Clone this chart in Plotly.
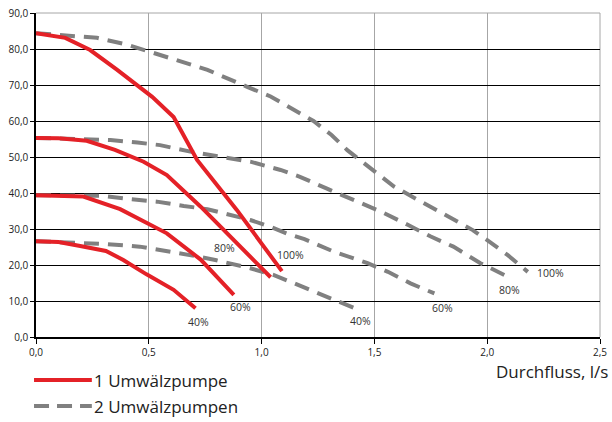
import plotly.graph_objects as go

# Pump curves: head vs. flow for one and two circulation pumps at 40/60/80/100 % speed
red_100_x = [0, 0.13, 0.24, 0.36, 0.515, 0.61, 0.714, 0.89, 1.09]
red_100_y = [84.4, 83.1, 79.7, 74.2, 66.7, 61.1, 49.2, 35.3, 18.3]

red_80_x = [0, 0.1, 0.225, 0.35, 0.477, 0.58, 0.73, 0.884, 1.04]
red_80_y = [55.3, 55.2, 54.5, 52.0, 48.7, 45.0, 36.2, 26.6, 16.6]

red_60_x = [0, 0.1, 0.21, 0.373, 0.49, 0.58, 0.73, 0.877]
red_60_y = [39.4, 39.3, 39.0, 35.5, 31.6, 28.8, 21.5, 11.7]

red_40_x = [0, 0.1, 0.196, 0.31, 0.387, 0.49, 0.61, 0.707]
red_40_y = [26.6, 26.4, 25.3, 23.9, 21.4, 17.4, 13.1, 8.0]

gray_100_x = [0, 0.136, 0.27, 0.40, 0.52, 0.625, 0.76, 0.936, 1.04, 1.23, 1.31,
              1.38, 1.476, 1.587, 1.707, 1.825, 1.936, 2.0, 2.09, 2.18]
gray_100_y = [84.4, 83.8, 83.1, 81.3, 79.0, 76.9, 74.2, 69.5, 66.8, 60.0, 56.1,
              51.9, 47.3, 41.8, 37.6, 33.4, 29.7, 26.9, 22.8, 18.1]

gray_80_x = [0, 0.196, 0.33, 0.45, 0.55, 0.684, 0.818, 0.95, 1.084, 1.17, 1.29,
             1.425, 1.53, 1.65, 1.75, 1.85, 1.97, 2.09]
gray_80_y = [55.3, 55.0, 54.7, 54.0, 53.3, 51.5, 50.1, 48.7, 46.4, 44.5, 41.2,
             37.6, 34.8, 31.1, 27.9, 25.1, 20.5, 16.8]

gray_60_x = [0, 0.196, 0.3, 0.42, 0.536, 0.655, 0.76, 0.95, 1.04, 1.11, 1.19,
             1.32, 1.47, 1.56, 1.66, 1.766]
gray_60_y = [39.4, 39.4, 39.2, 38.3, 37.6, 36.4, 35.5, 32.5, 30.6, 28.8, 27.2,
             23.7, 20.5, 18.1, 14.9, 12.1]

gray_40_x = [0, 0.196, 0.314, 0.46, 0.6, 0.714, 0.80, 0.95, 1.055, 1.2, 1.32, 1.42]
gray_40_y = [26.6, 26.2, 25.8, 25.1, 23.7, 22.4, 21.3, 19.1, 17.2, 13.5, 10.3, 7.8]

# Speed labels placed next to the curve ends
red_label_text = ["40%", "60%", "80%", "100%"]
red_label_x = [0.72, 0.907, 0.836, 1.13]
red_label_y = [4.3, 8.2, 24.8, 22.8]

gray_label_text = ["40%", "60%", "80%", "100%"]
gray_label_x = [1.44, 1.80, 2.10, 2.28]
gray_label_y = [4.4, 8.1, 13.1, 17.7]

legend_names = ["1 Umwälzpumpe", "2 Umwälzpumpen"]
x_title = "Durchfluss, l/s"

RED = "#e42127"
GRAY = "#808080"
FONT = "Open Sans, Noto Sans, sans-serif"
DASH = "15px,9px"

fig = go.Figure()

red_curves = [(red_100_x, red_100_y), (red_80_x, red_80_y),
              (red_60_x, red_60_y), (red_40_x, red_40_y)]
gray_curves = [(gray_100_x, gray_100_y), (gray_80_x, gray_80_y),
               (gray_60_x, gray_60_y), (gray_40_x, gray_40_y)]

for xs, ys in gray_curves:
    fig.add_trace(go.Scatter(x=xs, y=ys, mode="lines", showlegend=False,
                             line=dict(color=GRAY, width=4, dash=DASH),
                             hoverinfo="skip"))
for xs, ys in red_curves:
    fig.add_trace(go.Scatter(x=xs, y=ys, mode="lines", showlegend=False,
                             line=dict(color=RED, width=4),
                             hoverinfo="skip"))

annotations = []
for t, x, y in zip(red_label_text + gray_label_text,
                   red_label_x + gray_label_x,
                   red_label_y + gray_label_y):
    annotations.append(dict(x=x, y=y, xref="x", yref="y", text=t, showarrow=False,
                            font=dict(family=FONT, size=10.5, color="#333333")))

# x-axis title at the lower right
annotations.append(dict(x=1.018, y=-0.108, xref="paper", yref="paper", text=x_title,
                        xanchor="right", yanchor="middle", showarrow=False,
                        font=dict(family=FONT, size=17, color="#222222")))

# Legend: line samples plus labels below the chart
legend_rows = [(-0.133, RED, "solid"), (-0.213, GRAY, "15px,8px")]
shapes = []
for (yy, col, dash), name in zip(legend_rows, legend_names):
    shapes.append(dict(type="line", xref="paper", yref="paper",
                       x0=-0.0035, x1=0.099, y0=yy, y1=yy,
                       line=dict(color=col, width=4, dash=dash)))
    annotations.append(dict(x=0.1, y=yy, xref="paper", yref="paper", text=name,
                            xanchor="left", yanchor="middle", showarrow=False,
                            font=dict(family=FONT, size=17, color="#222222")))

# Gray frame along the top and right of the plot area
shapes.append(dict(type="line", xref="paper", yref="paper", x0=0, x1=1, y0=1, y1=1,
                   line=dict(color="#a6a6a6", width=1), layer="below"))
shapes.append(dict(type="line", xref="paper", yref="paper", x0=1, x1=1, y0=0, y1=1,
                   line=dict(color="#a6a6a6", width=1), layer="below"))

fig.update_layout(
    width=612, height=422,
    margin=dict(l=36, r=12, t=13, b=85, autoexpand=False),
    paper_bgcolor="white", plot_bgcolor="white",
    separators=",.",
    font=dict(family=FONT, size=10, color="#222222"),
    showlegend=False,
    annotations=annotations,
    shapes=shapes,
    xaxis=dict(range=[0, 2.5], dtick=0.5, tick0=0, tickformat=".1f",
               showgrid=True, gridcolor="#a6a6a6", gridwidth=1,
               showline=True, linecolor="#000000", linewidth=1.5,
               ticks="outside", ticklen=5, tickcolor="#000000",
               zeroline=False, automargin=False,
               tickfont=dict(size=10, color="#222222")),
    yaxis=dict(range=[0, 90], dtick=10, tick0=0, tickformat=".1f",
               showgrid=True, gridcolor="#000000", gridwidth=1,
               showline=True, linecolor="#000000", linewidth=1.5,
               ticks="outside", ticklen=4, tickcolor="#000000",
               zeroline=False, automargin=False,
               tickfont=dict(size=10, color="#222222")),
)

fig.write_html("out.html")
